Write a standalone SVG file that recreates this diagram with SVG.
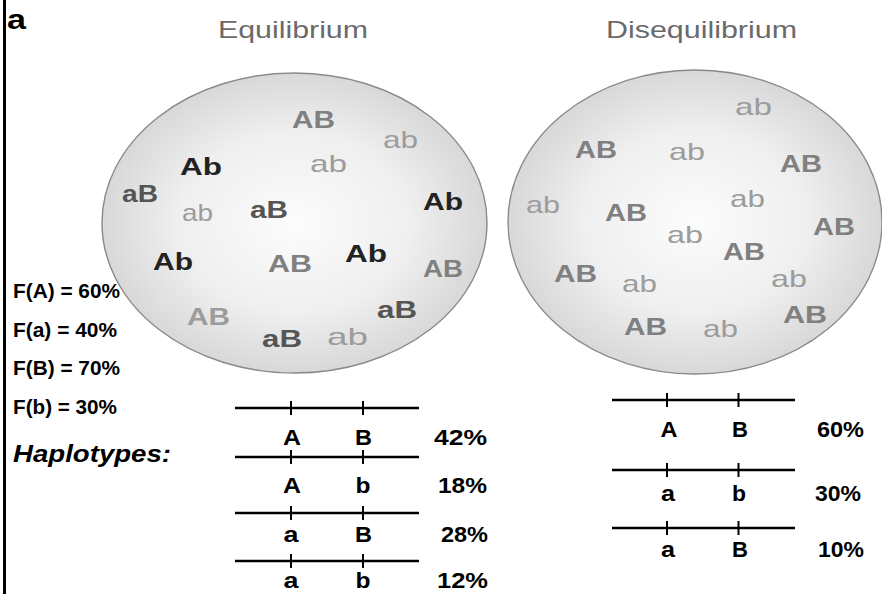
<svg xmlns="http://www.w3.org/2000/svg" width="882" height="594" viewBox="0 0 882 594">
<defs>
<radialGradient id="sph" cx="50%" cy="50%" r="50%">
<stop offset="0" stop-color="#fcfcfc"/>
<stop offset="0.6" stop-color="#efefef"/>
<stop offset="1" stop-color="#d8d8d8"/>
</radialGradient>
</defs>
<style>
text{font-family:"Liberation Sans",Arial,sans-serif;}
.title{font-size:24px;fill:#6a6a6a;}
.cell{fill:url(#sph);stroke:#8a8a8a;stroke-width:1.4;}
.g{font-size:24px;font-weight:bold;}
.r{font-size:24px;font-weight:normal;}
.k1{fill:#222;}
.k2{fill:#555;}
.k3{fill:#808080;}
.k4{fill:#9c9c9c;}
.lab{font-size:20px;font-weight:bold;fill:#000;}
.hl{stroke:#000;stroke-width:2.6;}
.tk{stroke:#000;stroke-width:2;}
.al{font-size:22px;font-weight:bold;fill:#000;text-anchor:middle;}
.pc{font-size:22px;font-weight:bold;fill:#000;}
</style>
<rect width="882" height="594" fill="#fff"/>
<line x1="4.5" y1="0" x2="4.5" y2="594" stroke="#000" stroke-width="3"/>
<text x="7" y="29" font-size="28" font-weight="bold" textLength="19" lengthAdjust="spacingAndGlyphs">a</text>

<g id="equilibrium">
<text class="title" x="218" y="38" textLength="150" lengthAdjust="spacingAndGlyphs">Equilibrium</text>
<ellipse class="cell" cx="294.5" cy="223" rx="192.5" ry="150"/>
<text class="g k3" x="292" y="128" textLength="43" lengthAdjust="spacingAndGlyphs">AB</text>
<text class="r k4" x="383" y="148" textLength="35" lengthAdjust="spacingAndGlyphs">ab</text>
<text class="r k4" x="310" y="172" textLength="37" lengthAdjust="spacingAndGlyphs">ab</text>
<text class="g k1" x="180" y="175" textLength="42" lengthAdjust="spacingAndGlyphs">Ab</text>
<text class="g k2" x="122" y="202" textLength="36" lengthAdjust="spacingAndGlyphs">aB</text>
<text class="r k4" x="182" y="221" textLength="31" lengthAdjust="spacingAndGlyphs">ab</text>
<text class="g k2" x="250" y="218" textLength="38" lengthAdjust="spacingAndGlyphs">aB</text>
<text class="g k1" x="423" y="210" textLength="40" lengthAdjust="spacingAndGlyphs">Ab</text>
<text class="g k1" x="153" y="270" textLength="40" lengthAdjust="spacingAndGlyphs">Ab</text>
<text class="g k3" x="268" y="272" textLength="44" lengthAdjust="spacingAndGlyphs">AB</text>
<text class="g k1" x="345" y="262" textLength="42" lengthAdjust="spacingAndGlyphs">Ab</text>
<text class="g k3" x="423" y="277" textLength="40" lengthAdjust="spacingAndGlyphs">AB</text>
<text class="g k4" x="187" y="325" textLength="43" lengthAdjust="spacingAndGlyphs">AB</text>
<text class="g k2" x="262" y="347" textLength="40" lengthAdjust="spacingAndGlyphs">aB</text>
<text class="r k4" x="327" y="345" textLength="41" lengthAdjust="spacingAndGlyphs">ab</text>
<text class="g k2" x="377" y="318" textLength="40" lengthAdjust="spacingAndGlyphs">aB</text>
</g>

<g id="disequilibrium">
<text class="title" x="606" y="38" textLength="191" lengthAdjust="spacingAndGlyphs">Disequilibrium</text>
<ellipse class="cell" cx="695" cy="222" rx="187" ry="152"/>
<text class="r k4" x="735" y="115" textLength="37" lengthAdjust="spacingAndGlyphs">ab</text>
<text class="g k3" x="575" y="158" textLength="42" lengthAdjust="spacingAndGlyphs">AB</text>
<text class="r k4" x="669" y="160" textLength="36" lengthAdjust="spacingAndGlyphs">ab</text>
<text class="g k3" x="780" y="172" textLength="42" lengthAdjust="spacingAndGlyphs">AB</text>
<text class="r k4" x="526" y="213" textLength="34" lengthAdjust="spacingAndGlyphs">ab</text>
<text class="g k3" x="605" y="221" textLength="42" lengthAdjust="spacingAndGlyphs">AB</text>
<text class="r k4" x="730" y="207" textLength="35" lengthAdjust="spacingAndGlyphs">ab</text>
<text class="g k3" x="813" y="235" textLength="42" lengthAdjust="spacingAndGlyphs">AB</text>
<text class="r k4" x="667" y="243" textLength="36" lengthAdjust="spacingAndGlyphs">ab</text>
<text class="g k3" x="723" y="260" textLength="42" lengthAdjust="spacingAndGlyphs">AB</text>
<text class="g k3" x="554" y="282" textLength="43" lengthAdjust="spacingAndGlyphs">AB</text>
<text class="r k4" x="622" y="292" textLength="35" lengthAdjust="spacingAndGlyphs">ab</text>
<text class="r k4" x="771" y="287" textLength="36" lengthAdjust="spacingAndGlyphs">ab</text>
<text class="g k3" x="624" y="335" textLength="43" lengthAdjust="spacingAndGlyphs">AB</text>
<text class="r k4" x="703" y="337" textLength="35" lengthAdjust="spacingAndGlyphs">ab</text>
<text class="g k3" x="783" y="323" textLength="44" lengthAdjust="spacingAndGlyphs">AB</text>
</g>

<g id="allele-frequencies">
<text class="lab" x="13" y="298" textLength="107" lengthAdjust="spacingAndGlyphs">F(A) = 60%</text>
<text class="lab" x="13" y="337" textLength="104" lengthAdjust="spacingAndGlyphs">F(a) = 40%</text>
<text class="lab" x="13" y="375" textLength="107" lengthAdjust="spacingAndGlyphs">F(B) = 70%</text>
<text class="lab" x="13" y="414" textLength="104" lengthAdjust="spacingAndGlyphs">F(b) = 30%</text>
<text x="13" y="462" font-size="24" font-weight="bold" font-style="italic" textLength="158" lengthAdjust="spacingAndGlyphs">Haplotypes:</text>
</g>

<g id="hap-eq-AB">
<line class="hl" x1="235" y1="408" x2="419" y2="408"/>
<line class="tk" x1="291" y1="401" x2="291" y2="415"/>
<line class="tk" x1="363" y1="401" x2="363" y2="415"/>
<text class="al" x="292" y="445" textLength="18" lengthAdjust="spacingAndGlyphs">A</text>
<text class="al" x="363.5" y="445" textLength="17" lengthAdjust="spacingAndGlyphs">B</text>
<text class="pc" x="434" y="445" textLength="53" lengthAdjust="spacingAndGlyphs">42%</text>
</g>
<g id="hap-eq-Ab">
<line class="hl" x1="235" y1="457" x2="419" y2="457"/>
<line class="tk" x1="291" y1="450" x2="291" y2="464"/>
<line class="tk" x1="363" y1="450" x2="363" y2="464"/>
<text class="al" x="292" y="493" textLength="18" lengthAdjust="spacingAndGlyphs">A</text>
<text class="al" x="363" y="493" textLength="15" lengthAdjust="spacingAndGlyphs">b</text>
<text class="pc" x="438" y="493" textLength="49" lengthAdjust="spacingAndGlyphs">18%</text>
</g>
<g id="hap-eq-aB">
<line class="hl" x1="235" y1="513" x2="419" y2="513"/>
<line class="tk" x1="291" y1="506" x2="291" y2="520"/>
<line class="tk" x1="363" y1="506" x2="363" y2="520"/>
<text class="al" x="291" y="542" textLength="15" lengthAdjust="spacingAndGlyphs">a</text>
<text class="al" x="363.5" y="542" textLength="17" lengthAdjust="spacingAndGlyphs">B</text>
<text class="pc" x="441" y="542" textLength="47" lengthAdjust="spacingAndGlyphs">28%</text>
</g>
<g id="hap-eq-ab">
<line class="hl" x1="235" y1="561" x2="419" y2="561"/>
<line class="tk" x1="291" y1="554" x2="291" y2="568"/>
<line class="tk" x1="363" y1="554" x2="363" y2="568"/>
<text class="al" x="291" y="588" textLength="15" lengthAdjust="spacingAndGlyphs">a</text>
<text class="al" x="363" y="588" textLength="15" lengthAdjust="spacingAndGlyphs">b</text>
<text class="pc" x="437" y="588" textLength="51" lengthAdjust="spacingAndGlyphs">12%</text>
</g>

<g id="hap-dis-AB">
<line class="hl" x1="612" y1="400" x2="795" y2="400"/>
<line class="tk" x1="667" y1="393" x2="667" y2="407"/>
<line class="tk" x1="738.5" y1="393" x2="738.5" y2="407"/>
<text class="al" x="669" y="437" textLength="17" lengthAdjust="spacingAndGlyphs">A</text>
<text class="al" x="740" y="437" textLength="16" lengthAdjust="spacingAndGlyphs">B</text>
<text class="pc" x="817" y="437" textLength="47" lengthAdjust="spacingAndGlyphs">60%</text>
</g>
<g id="hap-dis-ab">
<line class="hl" x1="612" y1="470" x2="795" y2="470"/>
<line class="tk" x1="667" y1="463" x2="667" y2="477"/>
<line class="tk" x1="738.5" y1="463" x2="738.5" y2="477"/>
<text class="al" x="668" y="501" textLength="14" lengthAdjust="spacingAndGlyphs">a</text>
<text class="al" x="739" y="501" textLength="14" lengthAdjust="spacingAndGlyphs">b</text>
<text class="pc" x="815" y="501" textLength="46" lengthAdjust="spacingAndGlyphs">30%</text>
</g>
<g id="hap-dis-aB">
<line class="hl" x1="612" y1="528" x2="795" y2="528"/>
<line class="tk" x1="667" y1="521" x2="667" y2="535"/>
<line class="tk" x1="738.5" y1="521" x2="738.5" y2="535"/>
<text class="al" x="668" y="557" textLength="14" lengthAdjust="spacingAndGlyphs">a</text>
<text class="al" x="740" y="557" textLength="16" lengthAdjust="spacingAndGlyphs">B</text>
<text class="pc" x="818" y="557" textLength="46" lengthAdjust="spacingAndGlyphs">10%</text>
</g>
<g id="connectors"/>
</svg>
